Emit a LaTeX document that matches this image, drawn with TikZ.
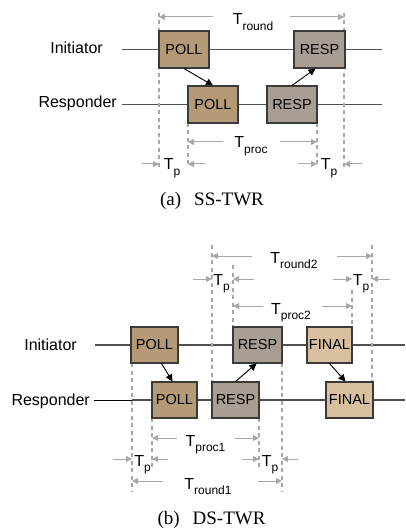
\documentclass[tikz,border=0pt]{standalone}
\usepackage{fontspec}
\setmainfont{Liberation Serif}
\setsansfont{Liberation Sans}
\usetikzlibrary{arrows.meta}
\definecolor{pollc}{HTML}{B49A76}
\definecolor{respc}{HTML}{A89E94}
\definecolor{finalc}{HTML}{D8BFA0}
\definecolor{bordc}{HTML}{3A3A3A}
\definecolor{linec}{HTML}{505050}
\definecolor{dimc}{HTML}{A8A8A8}
\newcommand{\Tsub}[1]{T\raisebox{-0.32em}{\fontsize{12}{12}\selectfont #1}}
\tikzset{
  pkt/.style={draw=bordc, line width=1.1pt, inner sep=0pt, minimum height=37pt,
    font=\sffamily\fontsize{14.5}{15}\selectfont},
  poll/.style={pkt, fill=pollc},
  resp/.style={pkt, fill=respc},
  final/.style={pkt, fill=finalc},
  tline/.style={draw=linec, line width=1.1pt},
  vdash/.style={draw=dimc, line width=1.1pt, dash pattern=on 4pt off 3.5pt},
  dimarr/.style={draw=dimc, line width=1pt, -{Triangle[width=6pt,length=6pt]}},
  msg/.style={draw=black, line width=0.9pt, -{Triangle[width=7pt,length=7pt]}},
  lbl/.style={font=\sffamily\fontsize{16}{16}\selectfont, inner sep=0pt, anchor=base east},
  tlbl/.style={font=\sffamily\fontsize{16}{16}\selectfont, inner sep=0pt, anchor=base},
  captxt/.style={font=\fontsize{19}{19}\selectfont, inner sep=0pt, anchor=base}
}
\begin{document}
\begin{tikzpicture}[x=1pt,y=-1pt]
\useasboundingbox (0,0) rectangle (405,529);
% ===== (a) SS-TWR =====
\node[lbl] (ini1) at (103,53.5) {Initiator};
\node[lbl] (res1) at (117,108) {Responder};
\coordinate (i1s) at (122,49.5); \coordinate (i1e) at (382,49.5);
\coordinate (r1s) at (122,104.5); \coordinate (r1e) at (382,104.5);
\draw[tline] (i1s) -- (i1e);
\draw[tline] (r1s) -- (r1e);
% dashed verticals
\coordinate (a1t) at (159,13); \coordinate (a1b) at (159,167);
\coordinate (a2t) at (188,123); \coordinate (a2b) at (188,167);
\coordinate (a3t) at (317,123); \coordinate (a3b) at (317,167);
\coordinate (a4t) at (344,13); \coordinate (a4b) at (344,167);
\draw[vdash] (a1t) -- (a1b);
\draw[vdash] (a2t) -- (a2b);
\draw[vdash] (a3t) -- (a3b);
\draw[vdash] (a4t) -- (a4b);
% boxes
\node[poll, minimum width=50pt] (pi) at (184,49.5) {POLL};
\node[resp, minimum width=51pt] (ri) at (319.5,49.5) {RESP};
\node[poll, minimum width=50pt] (pr) at (213,104.5) {POLL};
\node[resp, minimum width=50pt] (rr) at (292,104.5) {RESP};
\draw[msg] (pi.south) -- (pr.north);
\draw[msg] (rr.north) -- ([xshift=-4pt]ri.south);
% dimensions
\coordinate (tr1a) at (213,17); \coordinate (tr1b) at (159,17);
\coordinate (tr1c) at (290,17); \coordinate (tr1d) at (344,17);
\draw[dimarr] (tr1a) -- (tr1b);
\draw[dimarr] (tr1c) -- (tr1d);
\node[tlbl] (tround) at (253,25) {\Tsub{round}};
\coordinate (tp1a) at (223,142); \coordinate (tp1b) at (188,142);
\coordinate (tp1c) at (280,142); \coordinate (tp1d) at (317,142);
\draw[dimarr] (tp1a) -- (tp1b);
\draw[dimarr] (tp1c) -- (tp1d);
\node[tlbl] (tproc) at (251,148) {\Tsub{proc}};
\coordinate (p1a) at (142,164); \coordinate (p1b) at (159,164);
\coordinate (p1c) at (205,164); \coordinate (p1d) at (188,164);
\draw[dimarr] (p1a) -- (p1b);
\draw[dimarr] (p1c) -- (p1d);
\node[tlbl] (tp1) at (172,170) {\Tsub{p}};
\coordinate (p2a) at (298,164); \coordinate (p2b) at (317,164);
\coordinate (p2c) at (362,164); \coordinate (p2d) at (344,164);
\draw[dimarr] (p2a) -- (p2b);
\draw[dimarr] (p2c) -- (p2d);
\node[tlbl] (tp2) at (329,170) {\Tsub{p}};
\node[captxt] (capa) at (212,205) {(a)\hspace{13pt}SS-TWR};
% ===== (b) DS-TWR =====
\node[lbl] (ini2) at (77,350) {Initiator};
\node[lbl] (res2) at (90,405) {Responder};
\coordinate (i2s) at (95,345); \coordinate (i2e) at (405,345);
\coordinate (r2s) at (94,400); \coordinate (r2m) at (132,400); \coordinate (r2e) at (405,400);
\draw[tline] (i2s) -- (i2e);
\draw[draw=black, line width=0.9pt] (r2s) -- (r2m);
\draw[tline] (r2m) -- (r2e);
% dashed verticals
\coordinate (b1t) at (212,245); \coordinate (b1b) at (212,382);
\coordinate (b2t) at (233,265); \coordinate (b2b) at (233,327);
\coordinate (b3t) at (352,290); \coordinate (b3b) at (352,327);
\coordinate (b4t) at (372,245); \coordinate (b4b) at (372,382);
\coordinate (b5t) at (132,363); \coordinate (b5b) at (132,492);
\coordinate (b6t) at (152,418); \coordinate (b6b) at (152,467);
\coordinate (b7t) at (259,418); \coordinate (b7b) at (259,467);
\coordinate (b8t) at (282,363); \coordinate (b8b) at (282,492);
\foreach \n in {1,...,8} {\draw[vdash] (b\n t) -- (b\n b);}
% boxes
\node[poll, minimum width=47pt, minimum height=36pt] (PI) at (154.5,345) {POLL};
\node[resp, minimum width=49pt, minimum height=36pt] (RI) at (257.5,345) {RESP};
\node[final, minimum width=45pt, minimum height=36pt] (FI) at (329.5,345) {FINAL};
\node[poll, minimum width=45pt, minimum height=36pt] (PR) at (174.5,400) {POLL};
\node[resp, minimum width=47pt, minimum height=36pt] (RR) at (235.5,400) {RESP};
\node[final, minimum width=47pt, minimum height=36pt] (FR) at (349.5,400) {FINAL};
\draw[msg] ([xshift=7pt]PI.south) -- ([xshift=-2pt]PR.north);
\draw[msg] (RR.north) -- ([xshift=-1pt]RI.south);
\draw[msg] (FI.south) -- ([xshift=-4pt]FR.north);
% dimensions
\coordinate (r2a) at (252,256); \coordinate (r2b) at (212,256);
\coordinate (r2c) at (337,256); \coordinate (r2d) at (372,256);
\draw[dimarr] (r2a) -- (r2b);
\draw[dimarr] (r2c) -- (r2d);
\node[tlbl] (tround2) at (294,263) {\Tsub{round2}};
\coordinate (q1a) at (193,279); \coordinate (q1b) at (212,279);
\coordinate (q1c) at (254,279); \coordinate (q1d) at (233,279);
\draw[dimarr] (q1a) -- (q1b);
\draw[dimarr] (q1c) -- (q1d);
\node[tlbl] (tp3) at (221.5,285) {\Tsub{p}};
\coordinate (q2a) at (333,279); \coordinate (q2b) at (352,279);
\coordinate (q2c) at (390,279); \coordinate (q2d) at (372,279);
\draw[dimarr] (q2a) -- (q2b);
\draw[dimarr] (q2c) -- (q2d);
\node[tlbl] (tp4) at (361,285) {\Tsub{p}};
\coordinate (c2a) at (263,306); \coordinate (c2b) at (233,306);
\coordinate (c2c) at (322,306); \coordinate (c2d) at (352,306);
\draw[dimarr] (c2a) -- (c2b);
\draw[dimarr] (c2c) -- (c2d);
\node[tlbl] (tproc2) at (291,314) {\Tsub{proc2}};
\coordinate (c1a) at (177,438); \coordinate (c1b) at (152,438);
\coordinate (c1c) at (235,438); \coordinate (c1d) at (259,438);
\draw[dimarr] (c1a) -- (c1b);
\draw[dimarr] (c1c) -- (c1d);
\node[tlbl] (tproc1) at (205.5,446) {\Tsub{proc1}};
\coordinate (s1a) at (113,459); \coordinate (s1b) at (132,459);
\coordinate (s1c) at (168,459); \coordinate (s1d) at (152,459);
\draw[dimarr] (s1a) -- (s1b);
\draw[dimarr] (s1c) -- (s1d);
\node[tlbl] (tp5) at (142.5,466) {\Tsub{p}};
\coordinate (s2a) at (242,459); \coordinate (s2b) at (259,459);
\coordinate (s2c) at (298,459); \coordinate (s2d) at (282,459);
\draw[dimarr] (s2a) -- (s2b);
\draw[dimarr] (s2c) -- (s2d);
\node[tlbl] (tp6) at (270,466) {\Tsub{p}};
\coordinate (u1a) at (163,481); \coordinate (u1b) at (132,481);
\coordinate (u1c) at (258,481); \coordinate (u1d) at (282,481);
\draw[dimarr] (u1a) -- (u1b);
\draw[dimarr] (u1c) -- (u1d);
\node[tlbl] (tround1) at (208,489) {\Tsub{round1}};
\node[captxt] (capb) at (211.5,524) {(b)\hspace{13pt}DS-TWR};
\end{tikzpicture}
\end{document}
